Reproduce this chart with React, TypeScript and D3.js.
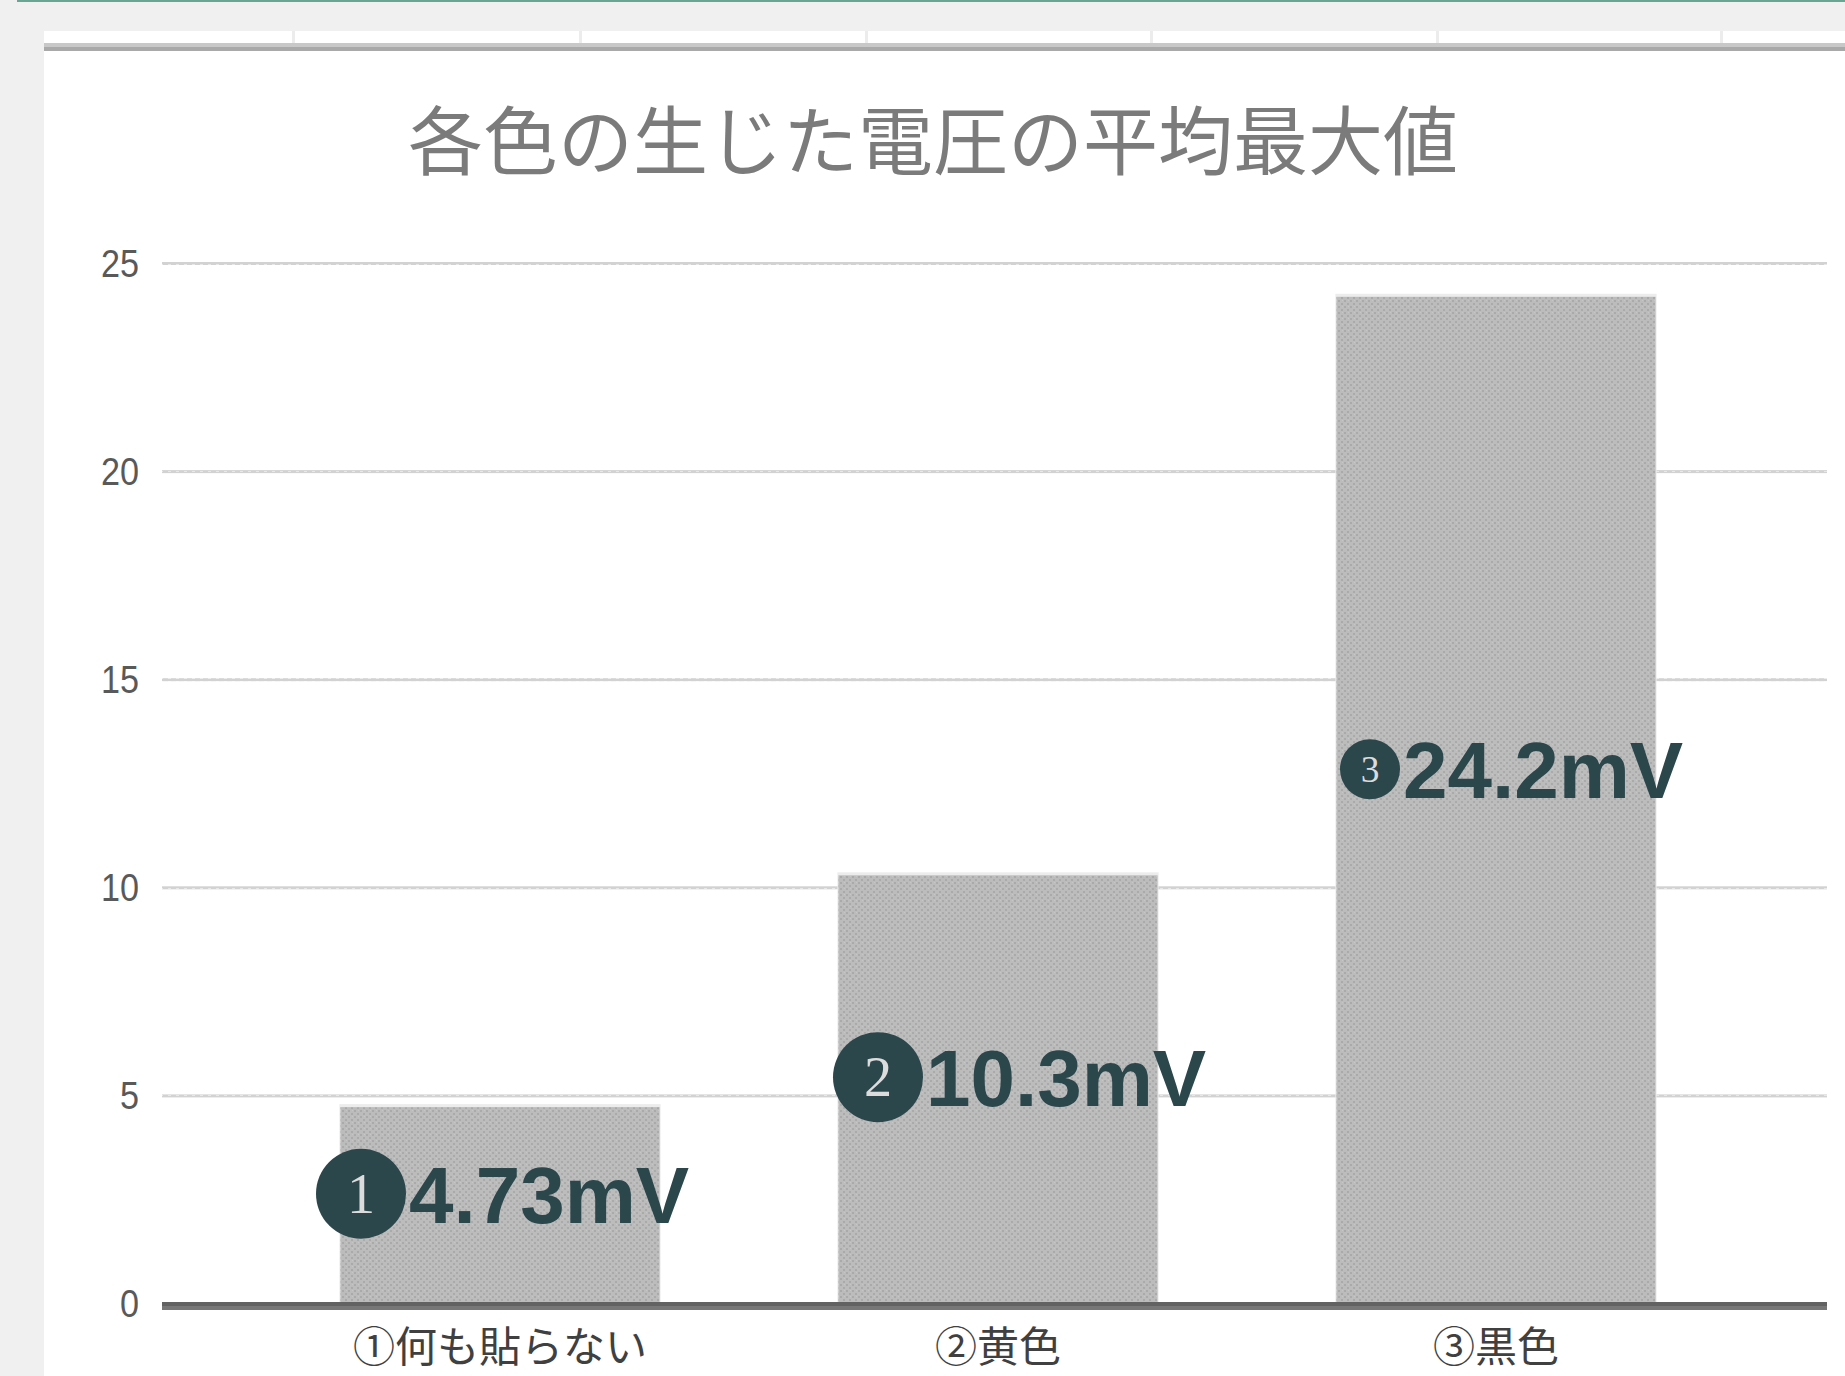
import React from "react";
import * as d3 from "d3";

const title = "各色の生じた電圧の平均最大値";
const categories = ["①何も貼らない", "②黄色", "③黒色"];
const values = [4.73, 10.3, 24.2];
const labelTexts = ["4.73mV", "10.3mV", "24.2mV"];
const badgeNumbers = ["1", "2", "3"];
const yTicks = [0, 5, 10, 15, 20, 25];
const sheetColumnEdges = [292, 579, 865, 1150, 1436, 1720];

// layout of the manually placed data labels (value-axis anchor, px shift, badge radius)
const labelAnchor = [2.65, 5.45, 12.85];
const labelShift = [-91, -72, -93];
const badgeRadius = [45, 45, 30];

const W = 1845;
const H = 1376;
const plotLeft = 162;
const plotRight = 1827;

export default function App() {
  const y = d3.scaleLinear().domain([0, 25]).range([1304, 263.5]);
  const x = d3
    .scaleBand<string>()
    .domain(categories)
    .range([251, 1745])
    .paddingInner(0.355)
    .paddingOuter(0.1775);

  return (
    <svg
      width={W}
      height={H}
      viewBox={`0 0 ${W} ${H}`}
      style={{ position: "absolute", left: 0, top: 0, display: "block" }}
    >
      <defs>
        <pattern id="dots" width="6" height="6" patternUnits="userSpaceOnUse">
          <rect width="6" height="6" fill="#bcbcbc" />
          <rect x="0" y="0" width="2" height="2" fill="#aaaaaa" />
          <rect x="3" y="3" width="2" height="2" fill="#aaaaaa" />
          <rect x="4" y="0" width="1" height="1" fill="#c6c6c6" />
        </pattern>
        <pattern id="gridDots" width="8" height="3" patternUnits="userSpaceOnUse">
          <rect width="8" height="3" fill="#d2d2d2" />
          <rect x="0" y="0" width="3" height="1" fill="#e8e8e8" />
        </pattern>
      </defs>
      {/* window chrome */}
      <rect x={0} y={0} width={W} height={H} fill="#f0f0f0" />
      <rect x={17} y={0} width={W - 17} height={2} fill="#6aa493" />
      <rect x={44} y={31} width={W - 44} height={H - 31} fill="#ffffff" />
      {sheetColumnEdges.map((cx, i) => (
        <rect key={i} x={cx} y={31} width={3} height={12} fill="#ececec" />
      ))}
      <rect x={44} y={43} width={W - 44} height={4} fill="#c8c8c8" />
      <rect x={44} y={47} width={W - 44} height={4} fill="#a9a9a9" />

      {/* title */}
      <text
        x={933}
        y={136}
        textAnchor="middle"
        dominantBaseline="central"
        fontFamily="'Noto Sans CJK JP', sans-serif"
        fontSize={75}
        fill="#7b7b7b"
      >
        {title}
      </text>

      {/* gridlines */}
      {yTicks
        .filter((t) => t !== 0)
        .map((t) => (
          <rect
            key={t}
            x={plotLeft}
            y={y(t) - 1.5}
            width={plotRight - plotLeft}
            height={3}
            fill="url(#gridDots)"
          />
        ))}

      {/* y tick labels */}
      {yTicks.map((t) => (
        <text
          key={t}
          x={139}
          y={y(t)}
          textAnchor="end"
          dominantBaseline="central"
          fontFamily="'Liberation Sans', Arial, sans-serif"
          fontSize={38}
          fill="#595959"
          transform={`translate(139 0) scale(0.9 1) translate(-139 0)`}
        >
          {t}
        </text>
      ))}

      {/* bars */}
      {categories.map((c, i) => (
        <g key={c}>
          <rect
            x={x(c)!}
            y={y(values[i]) - 3}
            width={x.bandwidth()}
            height={y(0) - y(values[i]) + 3}
            fill="#ececec"
          />
          <rect
            x={x(c)! + 1}
            y={y(values[i])}
            width={x.bandwidth() - 2}
            height={y(0) - y(values[i])}
            fill="url(#dots)"
          />
        </g>
      ))}

      {/* category axis */}
      <rect x={plotLeft} y={y(0) - 2} width={plotRight - plotLeft} height={4} fill="#626262" />
      <rect x={plotLeft} y={y(0) + 2} width={plotRight - plotLeft} height={4} fill="#777777" />

      {/* category labels */}
      {categories.map((c) => (
        <text
          key={c}
          x={x(c)! + x.bandwidth() / 2}
          y={1343}
          textAnchor="middle"
          dominantBaseline="central"
          fontFamily="'Noto Sans CJK JP', sans-serif"
          fontSize={42}
          fill="#404040"
        >
          {c}
        </text>
      ))}

      {/* data labels */}
      {categories.map((c, i) => {
        const center = x(c)! + x.bandwidth() / 2;
        const tx = center + labelShift[i];
        const cy = y(labelAnchor[i]);
        const r = badgeRadius[i];
        return (
          <g key={c}>
            <circle cx={tx - r - 3} cy={cy} r={r} fill="#2b474c" />
            <text
              x={tx - r - 3}
              y={cy}
              textAnchor="middle"
              dominantBaseline="central"
              fontFamily="'Liberation Serif', 'DejaVu Serif', serif"
              fontSize={r * 1.25}
              fill="#dcdcdc"
            >
              {badgeNumbers[i]}
            </text>
            <text
              x={tx}
              y={cy + 29}
              textAnchor="start"
              fontFamily="'Liberation Sans', Arial, sans-serif"
              fontWeight="bold"
              fontSize={80}
              fill="#2b474c"
            >
              {labelTexts[i]}
            </text>
          </g>
        );
      })}
    </svg>
  );
}
